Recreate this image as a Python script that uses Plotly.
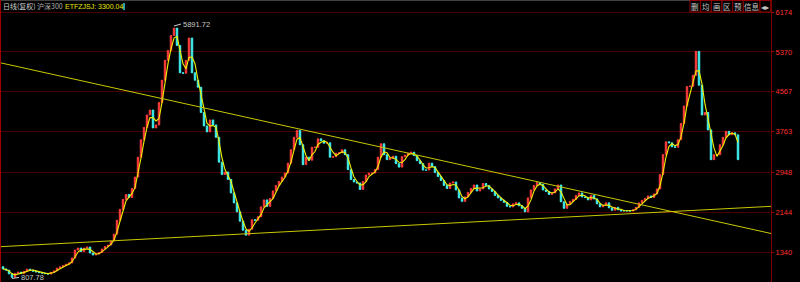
import plotly.graph_objects as go
import pandas as pd

# ---------------- data ----------------
closes = [
    1000, 975, 900, 830, 910, 935, 905, 950, 995, 975, 955, 940, 925, 915, 905, 895,
    930, 960, 1015, 1040, 1065, 1095, 1120, 1220, 1380, 1420, 1350, 1420, 1440, 1320,
    1280, 1300, 1330, 1400, 1450, 1480, 1560, 1700, 1980, 2200, 2400, 2500, 2440, 2620,
    2850, 3250, 3600, 3850, 4100, 4200, 3840, 3900, 4350, 4800, 5200, 5400, 5700, 5850,
    5500, 4950, 4940, 5200, 5650, 4950, 4800, 4660, 4150, 3880, 3760, 4000, 3900, 3650,
    3150, 2900, 2950, 2800, 2530, 2330, 2150, 1960, 1780, 1680, 1800, 1990, 1980, 2050,
    2250, 2390, 2260, 2420, 2570, 2680, 2760, 2850, 2930, 3130, 3400, 3650, 3790, 3500,
    3100, 3250, 3190, 3450, 3450, 3620, 3580, 3530, 3540, 3250, 3260, 3330, 3340, 3400,
    3300, 3000, 2800, 2750, 2730, 2600, 2760, 2890, 2930, 2930, 3000, 3250, 3520, 3300,
    3200, 3230, 3270, 3120, 3050, 3260, 3290, 3330, 3350, 3280, 3180, 3120, 2990, 2990,
    3130, 3060, 2940, 2860, 2780, 2680, 2620, 2730, 2750, 2590, 2430, 2360, 2450, 2540,
    2620, 2690, 2570, 2610, 2720, 2680, 2610, 2560, 2480, 2430, 2380, 2340, 2260, 2250,
    2310, 2330, 2270, 2220, 2150, 2430, 2590, 2680, 2740, 2700, 2590, 2560, 2500, 2530,
    2610, 2690, 2350, 2220, 2300, 2360, 2400, 2480, 2530, 2450, 2440, 2390, 2480, 2410,
    2310, 2250, 2280, 2330, 2230, 2180, 2240, 2190, 2170, 2170, 2170, 2165, 2190, 2240,
    2330, 2380, 2420, 2470, 2440, 2510, 2610, 2900, 3300, 3560, 3540, 3460, 3450, 3600,
    3930, 4280, 4670, 4680, 4900, 5380, 4700, 4100, 4150, 3800, 3200, 3300, 3300, 3500,
    3650, 3770, 3700, 3740, 3700, 3200,
]
first_open = 1045
periods = list(range(len(closes)))

high_label = 5891.72
low_label = 807.78
indicator_name = "ETFZJSJ"
indicator_value = 3300.04

tick_values = [1340, 2144, 2948, 3763, 4567, 5370, 6174]
tick_labels = ["1340", "2144", "2948", "3763", "4567", "5370", "6174"]

# straight trend lines (value at left edge, value at right edge)
trend_x = [-1, 256]
trend_down_y = [5153, 1713]
trend_up_y = [1447, 2260]

buttons = ["删", "均", "画", "区", "预", "信息"]

# ---------------- derived ----------------
opens = [first_open] + closes[:-1]
highs = [max(o, c) for o, c in zip(opens, closes)]
lows = [min(o, c) for o, c in zip(opens, closes)]
ma = pd.Series(closes).rolling(3, min_periods=1).mean().tolist()

W, H = 800, 282
L, R = 1, 771


def px(x):
    return (x - L) / (R - L)


def py(y):
    return 1 - y / H


FONT = "Liberation Sans, Arial, sans-serif"
CJK = "Noto Sans CJK SC, sans-serif"

fig = go.Figure()
fig.add_trace(go.Candlestick(
    x=periods, open=opens, high=highs, low=lows, close=closes,
    increasing=dict(line=dict(color="#ff3c3c", width=1), fillcolor="#ff3c3c"),
    decreasing=dict(line=dict(color="#40f0f0", width=1), fillcolor="#40f0f0"),
    whiskerwidth=0, showlegend=False, hoverinfo="skip",
))
fig.add_trace(go.Scatter(x=periods, y=ma, mode="lines",
                         line=dict(color="#f0f000", width=1.1),
                         showlegend=False, hoverinfo="skip"))
for ty in (trend_down_y, trend_up_y):
    fig.add_trace(go.Scatter(x=trend_x, y=ty, mode="lines",
                             line=dict(color="#c8c800", width=1),
                             showlegend=False, hoverinfo="skip"))

i_max = max(range(len(closes)), key=lambda i: closes[i])
i_min = min(range(len(closes)), key=lambda i: closes[i])

annotations = [
    dict(x=i_max, y=high_label, xref="x", yref="y", text=f"{high_label:.2f}",
         showarrow=True, arrowhead=0, arrowwidth=1, arrowcolor="#d0d0d0",
         ax=7, ay=-2, xanchor="left", yanchor="middle",
         font=dict(family=FONT, size=7.5, color="#c8c8c8")),
    dict(x=i_min, y=low_label, xref="x", yref="y", text=f"{low_label:.2f}",
         showarrow=True, arrowhead=0, arrowwidth=1, arrowcolor="#d0d0d0",
         ax=7, ay=-1, xanchor="left", yanchor="middle",
         font=dict(family=FONT, size=7.5, color="#c8c8c8")),
    dict(x=px(1), y=py(6), xref="paper", yref="paper", text="日线(复权)",
         showarrow=False, xanchor="left", yanchor="middle",
         font=dict(family=CJK, size=7, color="#d0d0d0")),
    dict(x=px(35), y=py(6), xref="paper", yref="paper", text="沪深300",
         showarrow=False, xanchor="left", yanchor="middle",
         font=dict(family=CJK, size=7, color="#b0b0b0")),
    dict(x=px(63), y=py(6), xref="paper", yref="paper",
         text=f"{indicator_name}: {indicator_value:.2f}",
         showarrow=False, xanchor="left", yanchor="middle",
         font=dict(family=FONT, size=7, color="#e8e800")),
]

shapes = [
    dict(type="line", xref="paper", yref="paper", x0=px(0.5), x1=px(0.5), y0=0, y1=1,
         line=dict(color="#a00000", width=1)),
    dict(type="line", xref="paper", yref="paper", x0=0, x1=1, y0=py(0.5), y1=py(0.5),
         line=dict(color="#404040", width=1)),
    dict(type="rect", xref="paper", yref="paper", x0=px(123), x1=px(125), y0=py(10), y1=py(3),
         line=dict(width=0), fillcolor="#20a0a0"),
]

edges = [690, 700.7, 711.3, 722, 732.7, 743.3, 760, 770.7]
for k in range(len(edges) - 1):
    shapes.append(dict(type="rect", xref="paper", yref="paper",
                       x0=px(edges[k]), x1=px(edges[k + 1]), y0=py(12), y1=py(0.5),
                       line=dict(color="#900000", width=1), fillcolor="#000000"))
    label = buttons[k] if k < len(buttons) else "◂▸"
    annotations.append(dict(x=px((edges[k] + edges[k + 1]) / 2), y=py(6.3),
                            xref="paper", yref="paper", text=label, showarrow=False,
                            xanchor="center", yanchor="middle",
                            font=dict(family=CJK, size=7.5, color="#c8c8c8")))

fig.update_layout(
    width=W, height=H,
    margin=dict(l=L, r=W - R, t=0, b=0),
    paper_bgcolor="#000000", plot_bgcolor="#000000",
    annotations=annotations, shapes=shapes,
    hovermode=False,
)
fig.update_xaxes(range=[-0.667, 256.0], visible=False, rangeslider_visible=False,
                 showgrid=False, zeroline=False)
fig.update_yaxes(range=[736, 6416], side="right", tickmode="array",
                 tickvals=tick_values, ticktext=tick_labels,
                 showgrid=True, gridcolor="#4a0000", gridwidth=1,
                 showline=True, linecolor="#800000", linewidth=1,
                 ticks="outside", ticklen=2, tickcolor="#a00000",
                 tickfont=dict(family=FONT, size=7.5, color="#ff3030"),
                 zeroline=False)

fig.write_html("out.html")
